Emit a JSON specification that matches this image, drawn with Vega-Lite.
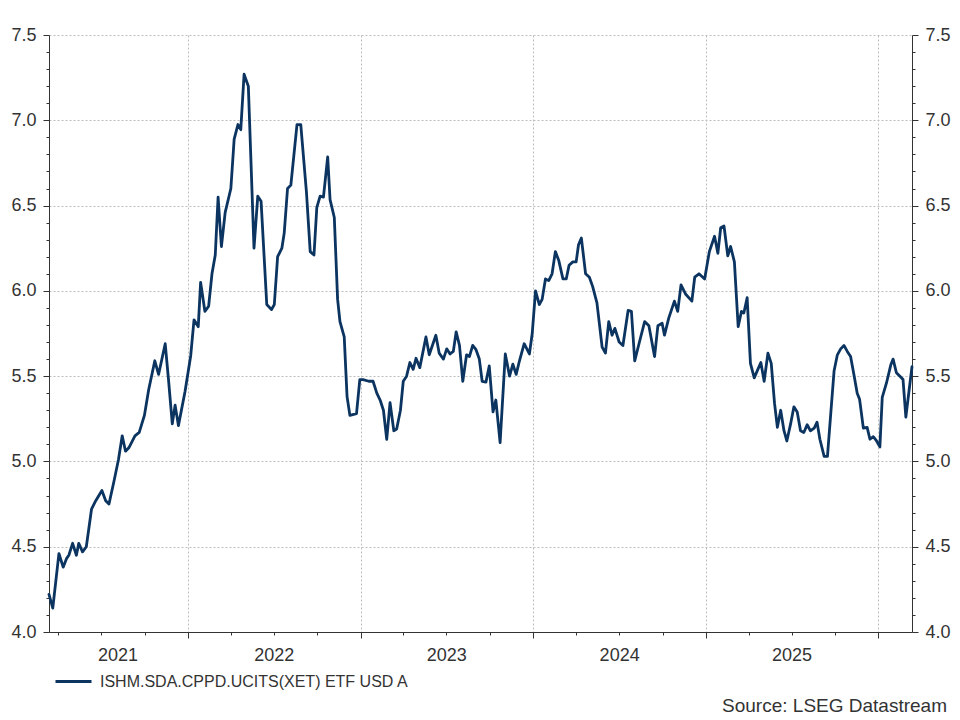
{
  "$schema": "https://vega.github.io/schema/vega-lite/v6.json",
  "width": 863,
  "height": 597,
  "autosize": {"type": "none"},
  "padding": {"left": 49, "top": 35, "right": 48, "bottom": 88},
  "background": "white",
  "config": {
    "view": {"stroke": null},
    "font": "Liberation Sans",
    "axis": {
      "labelFont": "Liberation Sans",
      "labelFontSize": 18,
      "labelColor": "#333333",
      "domainColor": "#333333",
      "domainWidth": 1,
      "tickColor": "#333333",
      "tickWidth": 1,
      "gridColor": "#bdbdbd",
      "gridDash": [2, 2],
      "gridWidth": 1,
      "labelOverlap": false,
      "labelFlush": false
    }
  },
  "title": {
    "text": "Source: LSEG Datastream",
    "orient": "bottom",
    "anchor": "end",
    "frame": "group",
    "dx": 35,
    "dy": -13,
    "offset": 20,
    "font": "Liberation Sans",
    "fontSize": 19,
    "fontWeight": "normal",
    "color": "#333333"
  },
  "data": {
    "values": [
      {"date": "2021-03-12", "value": 4.22},
      {"date": "2021-03-20", "value": 4.14},
      {"date": "2021-04-02", "value": 4.46},
      {"date": "2021-04-11", "value": 4.38},
      {"date": "2021-04-18", "value": 4.43},
      {"date": "2021-04-23", "value": 4.45},
      {"date": "2021-05-01", "value": 4.52},
      {"date": "2021-05-09", "value": 4.45},
      {"date": "2021-05-14", "value": 4.52},
      {"date": "2021-05-22", "value": 4.47},
      {"date": "2021-05-30", "value": 4.50},
      {"date": "2021-06-10", "value": 4.72},
      {"date": "2021-06-19", "value": 4.77},
      {"date": "2021-07-02", "value": 4.83},
      {"date": "2021-07-10", "value": 4.77},
      {"date": "2021-07-17", "value": 4.75},
      {"date": "2021-07-28", "value": 4.89},
      {"date": "2021-08-06", "value": 5.01},
      {"date": "2021-08-14", "value": 5.15},
      {"date": "2021-08-21", "value": 5.06},
      {"date": "2021-08-28", "value": 5.08},
      {"date": "2021-09-10", "value": 5.15},
      {"date": "2021-09-19", "value": 5.17},
      {"date": "2021-09-30", "value": 5.27},
      {"date": "2021-10-09", "value": 5.42},
      {"date": "2021-10-22", "value": 5.59},
      {"date": "2021-10-30", "value": 5.51},
      {"date": "2021-11-13", "value": 5.69},
      {"date": "2021-11-20", "value": 5.48},
      {"date": "2021-11-28", "value": 5.22},
      {"date": "2021-12-04", "value": 5.33},
      {"date": "2021-12-11", "value": 5.21},
      {"date": "2021-12-25", "value": 5.41},
      {"date": "2022-01-06", "value": 5.62},
      {"date": "2022-01-13", "value": 5.83},
      {"date": "2022-01-22", "value": 5.79},
      {"date": "2022-01-27", "value": 6.05},
      {"date": "2022-02-05", "value": 5.88},
      {"date": "2022-02-13", "value": 5.91},
      {"date": "2022-02-20", "value": 6.10},
      {"date": "2022-02-27", "value": 6.21},
      {"date": "2022-03-05", "value": 6.55},
      {"date": "2022-03-12", "value": 6.26},
      {"date": "2022-03-20", "value": 6.46},
      {"date": "2022-04-01", "value": 6.60},
      {"date": "2022-04-08", "value": 6.89},
      {"date": "2022-04-16", "value": 6.975},
      {"date": "2022-04-22", "value": 6.945},
      {"date": "2022-04-29", "value": 7.27},
      {"date": "2022-05-08", "value": 7.20},
      {"date": "2022-05-20", "value": 6.25},
      {"date": "2022-05-28", "value": 6.555},
      {"date": "2022-06-04", "value": 6.525},
      {"date": "2022-06-16", "value": 5.92},
      {"date": "2022-06-26", "value": 5.89},
      {"date": "2022-07-02", "value": 5.92},
      {"date": "2022-07-09", "value": 6.20},
      {"date": "2022-07-18", "value": 6.25},
      {"date": "2022-07-23", "value": 6.34},
      {"date": "2022-07-30", "value": 6.60},
      {"date": "2022-08-06", "value": 6.62},
      {"date": "2022-08-19", "value": 6.975},
      {"date": "2022-08-27", "value": 6.975},
      {"date": "2022-09-08", "value": 6.58},
      {"date": "2022-09-16", "value": 6.23},
      {"date": "2022-09-24", "value": 6.21},
      {"date": "2022-09-30", "value": 6.49},
      {"date": "2022-10-07", "value": 6.555},
      {"date": "2022-10-14", "value": 6.55},
      {"date": "2022-10-23", "value": 6.785},
      {"date": "2022-10-28", "value": 6.535},
      {"date": "2022-11-06", "value": 6.43},
      {"date": "2022-11-13", "value": 5.95},
      {"date": "2022-11-18", "value": 5.82},
      {"date": "2022-11-27", "value": 5.73},
      {"date": "2022-12-03", "value": 5.38},
      {"date": "2022-12-09", "value": 5.27},
      {"date": "2022-12-23", "value": 5.28},
      {"date": "2022-12-30", "value": 5.48},
      {"date": "2023-01-06", "value": 5.48},
      {"date": "2023-01-18", "value": 5.47},
      {"date": "2023-01-27", "value": 5.47},
      {"date": "2023-02-04", "value": 5.40},
      {"date": "2023-02-11", "value": 5.36},
      {"date": "2023-02-18", "value": 5.30},
      {"date": "2023-02-25", "value": 5.13},
      {"date": "2023-03-04", "value": 5.345},
      {"date": "2023-03-12", "value": 5.18},
      {"date": "2023-03-18", "value": 5.19},
      {"date": "2023-03-26", "value": 5.30},
      {"date": "2023-04-01", "value": 5.47},
      {"date": "2023-04-08", "value": 5.50},
      {"date": "2023-04-15", "value": 5.58},
      {"date": "2023-04-22", "value": 5.54},
      {"date": "2023-04-28", "value": 5.605},
      {"date": "2023-05-06", "value": 5.55},
      {"date": "2023-05-19", "value": 5.73},
      {"date": "2023-05-26", "value": 5.625},
      {"date": "2023-06-09", "value": 5.74},
      {"date": "2023-06-16", "value": 5.635},
      {"date": "2023-06-25", "value": 5.60},
      {"date": "2023-07-02", "value": 5.66},
      {"date": "2023-07-09", "value": 5.63},
      {"date": "2023-07-16", "value": 5.645},
      {"date": "2023-07-22", "value": 5.76},
      {"date": "2023-07-29", "value": 5.68},
      {"date": "2023-08-05", "value": 5.47},
      {"date": "2023-08-13", "value": 5.625},
      {"date": "2023-08-19", "value": 5.615},
      {"date": "2023-08-26", "value": 5.68},
      {"date": "2023-09-02", "value": 5.655},
      {"date": "2023-09-09", "value": 5.60},
      {"date": "2023-09-15", "value": 5.47},
      {"date": "2023-09-23", "value": 5.465},
      {"date": "2023-09-30", "value": 5.56},
      {"date": "2023-10-08", "value": 5.29},
      {"date": "2023-10-14", "value": 5.36},
      {"date": "2023-10-23", "value": 5.11},
      {"date": "2023-11-03", "value": 5.63},
      {"date": "2023-11-12", "value": 5.50},
      {"date": "2023-11-19", "value": 5.57},
      {"date": "2023-11-26", "value": 5.51},
      {"date": "2023-12-03", "value": 5.59},
      {"date": "2023-12-13", "value": 5.69},
      {"date": "2023-12-24", "value": 5.63},
      {"date": "2023-12-30", "value": 5.75},
      {"date": "2024-01-06", "value": 6.00},
      {"date": "2024-01-14", "value": 5.92},
      {"date": "2024-01-20", "value": 5.95},
      {"date": "2024-01-27", "value": 6.07},
      {"date": "2024-02-03", "value": 6.06},
      {"date": "2024-02-10", "value": 6.10},
      {"date": "2024-02-17", "value": 6.23},
      {"date": "2024-02-24", "value": 6.18},
      {"date": "2024-03-04", "value": 6.07},
      {"date": "2024-03-11", "value": 6.07},
      {"date": "2024-03-17", "value": 6.15},
      {"date": "2024-03-25", "value": 6.17},
      {"date": "2024-04-01", "value": 6.17},
      {"date": "2024-04-06", "value": 6.27},
      {"date": "2024-04-12", "value": 6.31},
      {"date": "2024-04-21", "value": 6.10},
      {"date": "2024-04-29", "value": 6.08},
      {"date": "2024-05-06", "value": 6.025},
      {"date": "2024-05-15", "value": 5.93},
      {"date": "2024-05-26", "value": 5.67},
      {"date": "2024-06-02", "value": 5.635},
      {"date": "2024-06-09", "value": 5.82},
      {"date": "2024-06-16", "value": 5.74},
      {"date": "2024-06-22", "value": 5.78},
      {"date": "2024-07-01", "value": 5.70},
      {"date": "2024-07-09", "value": 5.68},
      {"date": "2024-07-20", "value": 5.885},
      {"date": "2024-07-27", "value": 5.88},
      {"date": "2024-08-03", "value": 5.59},
      {"date": "2024-08-13", "value": 5.70},
      {"date": "2024-08-24", "value": 5.82},
      {"date": "2024-09-02", "value": 5.795},
      {"date": "2024-09-14", "value": 5.615},
      {"date": "2024-09-21", "value": 5.795},
      {"date": "2024-09-30", "value": 5.81},
      {"date": "2024-10-05", "value": 5.74},
      {"date": "2024-10-14", "value": 5.84},
      {"date": "2024-10-26", "value": 5.94},
      {"date": "2024-11-02", "value": 5.88},
      {"date": "2024-11-09", "value": 6.035},
      {"date": "2024-11-19", "value": 5.98},
      {"date": "2024-12-02", "value": 5.94},
      {"date": "2024-12-08", "value": 6.08},
      {"date": "2024-12-17", "value": 6.10},
      {"date": "2024-12-29", "value": 6.07},
      {"date": "2025-01-08", "value": 6.23},
      {"date": "2025-01-19", "value": 6.32},
      {"date": "2025-01-26", "value": 6.22},
      {"date": "2025-02-01", "value": 6.37},
      {"date": "2025-02-08", "value": 6.38},
      {"date": "2025-02-16", "value": 6.205},
      {"date": "2025-02-22", "value": 6.26},
      {"date": "2025-03-02", "value": 6.17},
      {"date": "2025-03-10", "value": 5.79},
      {"date": "2025-03-17", "value": 5.88},
      {"date": "2025-03-22", "value": 5.87},
      {"date": "2025-03-29", "value": 5.96},
      {"date": "2025-04-05", "value": 5.575},
      {"date": "2025-04-13", "value": 5.49},
      {"date": "2025-04-20", "value": 5.535},
      {"date": "2025-04-27", "value": 5.58},
      {"date": "2025-05-04", "value": 5.47},
      {"date": "2025-05-12", "value": 5.635},
      {"date": "2025-05-19", "value": 5.575},
      {"date": "2025-05-26", "value": 5.34},
      {"date": "2025-06-01", "value": 5.20},
      {"date": "2025-06-08", "value": 5.30},
      {"date": "2025-06-15", "value": 5.18},
      {"date": "2025-06-21", "value": 5.12},
      {"date": "2025-06-29", "value": 5.22},
      {"date": "2025-07-06", "value": 5.32},
      {"date": "2025-07-13", "value": 5.29},
      {"date": "2025-07-20", "value": 5.18},
      {"date": "2025-07-27", "value": 5.17},
      {"date": "2025-08-03", "value": 5.215},
      {"date": "2025-08-10", "value": 5.18},
      {"date": "2025-08-18", "value": 5.195},
      {"date": "2025-08-24", "value": 5.23},
      {"date": "2025-08-30", "value": 5.13},
      {"date": "2025-09-08", "value": 5.03},
      {"date": "2025-09-15", "value": 5.03},
      {"date": "2025-09-22", "value": 5.28},
      {"date": "2025-09-29", "value": 5.53},
      {"date": "2025-10-06", "value": 5.625},
      {"date": "2025-10-13", "value": 5.66},
      {"date": "2025-10-20", "value": 5.68},
      {"date": "2025-10-27", "value": 5.645},
      {"date": "2025-11-03", "value": 5.615},
      {"date": "2025-11-10", "value": 5.51},
      {"date": "2025-11-17", "value": 5.40},
      {"date": "2025-11-22", "value": 5.365},
      {"date": "2025-11-30", "value": 5.195},
      {"date": "2025-12-08", "value": 5.20},
      {"date": "2025-12-14", "value": 5.13},
      {"date": "2025-12-21", "value": 5.145},
      {"date": "2025-12-28", "value": 5.12},
      {"date": "2026-01-04", "value": 5.085},
      {"date": "2026-01-09", "value": 5.375},
      {"date": "2026-01-18", "value": 5.46},
      {"date": "2026-01-27", "value": 5.565},
      {"date": "2026-02-01", "value": 5.60},
      {"date": "2026-02-08", "value": 5.52},
      {"date": "2026-02-17", "value": 5.495},
      {"date": "2026-02-22", "value": 5.48},
      {"date": "2026-02-28", "value": 5.26},
      {"date": "2026-03-07", "value": 5.42},
      {"date": "2026-03-13", "value": 5.555}
    ]
  },
  "encoding": {
    "x": {
      "field": "date",
      "type": "temporal",
      "scale": {
        "domain": [
          {"year": 2021, "month": 3, "date": 12},
          {"year": 2026, "month": 3, "date": 13}
        ]
      },
      "axis": {
        "title": null,
        "grid": true,
        "values": [
          {"year": 2021, "month": 4, "date": 1},
          {"year": 2021, "month": 7, "date": 1},
          {"year": 2021, "month": 8, "date": 4},
          {"year": 2021, "month": 10, "date": 1},
          {"year": 2022, "month": 1, "date": 1},
          {"year": 2022, "month": 4, "date": 1},
          {"year": 2022, "month": 7, "date": 1},
          {"year": 2022, "month": 10, "date": 1},
          {"year": 2023, "month": 1, "date": 1},
          {"year": 2023, "month": 4, "date": 1},
          {"year": 2023, "month": 7, "date": 1},
          {"year": 2023, "month": 10, "date": 1},
          {"year": 2024, "month": 1, "date": 1},
          {"year": 2024, "month": 4, "date": 1},
          {"year": 2024, "month": 7, "date": 1},
          {"year": 2024, "month": 10, "date": 1},
          {"year": 2025, "month": 1, "date": 1},
          {"year": 2025, "month": 4, "date": 1},
          {"year": 2025, "month": 7, "date": 1},
          {"year": 2025, "month": 10, "date": 1},
          {"year": 2026, "month": 1, "date": 1}
        ],
        "gridOpacity": {"condition": {"test": "month(datum.value) == 0", "value": 1}, "value": 0},
        "tickSize": {"condition": {"test": "month(datum.value) == 0", "value": 6}, "value": 3},
        "tickOpacity": {"condition": {"test": "month(datum.value) == 7", "value": 0}, "value": 1},
        "labelExpr": "month(datum.value) == 7 ? '2021' : (month(datum.value) == 6 && year(datum.value) > 2021 ? timeFormat(datum.value, '%Y') : '')",
        "labelPadding": 11
      }
    }
  },
  "layer": [
    {
      "mark": {"type": "line", "strokeWidth": 2.8, "strokeJoin": "round", "strokeCap": "round"},
      "encoding": {
        "y": {
          "field": "value",
          "type": "quantitative",
          "scale": {"domain": [4, 7.5], "nice": false, "zero": false},
          "axis": {
            "orient": "left",
            "title": null,
            "grid": true,
            "values": [4.0, 4.1, 4.2, 4.3, 4.4, 4.5, 4.6, 4.7, 4.8, 4.9, 5.0, 5.1, 5.2, 5.3, 5.4, 5.5, 5.6, 5.7, 5.8, 5.9, 6.0, 6.1, 6.2, 6.3, 6.4, 6.5, 6.6, 6.7, 6.8, 6.9, 7.0, 7.1, 7.2, 7.3, 7.4, 7.5],
            "gridOpacity": {"condition": {"test": "abs(datum.value * 2 - round(datum.value * 2)) < 0.01", "value": 1}, "value": 0},
            "tickSize": {"condition": {"test": "abs(datum.value * 2 - round(datum.value * 2)) < 0.01", "value": 6}, "value": 3},
            "labelExpr": "abs(datum.value * 2 - round(datum.value * 2)) < 0.01 ? format(datum.value, '.1f') : ''",
            "labelPadding": 7
          }
        },
        "color": {
          "datum": "ISHM.SDA.CPPD.UCITS(XET) ETF USD A",
          "scale": {"range": ["#0b3460"]},
          "legend": {
            "orient": "none",
            "legendX": 5,
            "legendY": 627,
            "title": null,
            "padding": 0,
            "symbolType": "stroke",
            "symbolSize": 1296,
            "symbolStrokeWidth": 3,
            "labelFont": "Liberation Sans",
            "labelFontSize": 16,
            "labelColor": "#333333",
            "labelOffset": 7,
            "labelLimit": 500
          }
        }
      }
    },
    {
      "mark": {"type": "line", "opacity": 0},
      "encoding": {
        "y": {
          "field": "value",
          "type": "quantitative",
          "scale": {"domain": [4, 7.5], "nice": false, "zero": false},
          "axis": {
            "orient": "right",
            "title": null,
            "grid": false,
            "values": [4.0, 4.1, 4.2, 4.3, 4.4, 4.5, 4.6, 4.7, 4.8, 4.9, 5.0, 5.1, 5.2, 5.3, 5.4, 5.5, 5.6, 5.7, 5.8, 5.9, 6.0, 6.1, 6.2, 6.3, 6.4, 6.5, 6.6, 6.7, 6.8, 6.9, 7.0, 7.1, 7.2, 7.3, 7.4, 7.5],
            "tickSize": {"condition": {"test": "abs(datum.value * 2 - round(datum.value * 2)) < 0.01", "value": 6}, "value": 3},
            "labelExpr": "abs(datum.value * 2 - round(datum.value * 2)) < 0.01 ? format(datum.value, '.1f') : ''",
            "labelPadding": 7
          }
        }
      }
    }
  ],
  "resolve": {"scale": {"y": "independent"}}
}
